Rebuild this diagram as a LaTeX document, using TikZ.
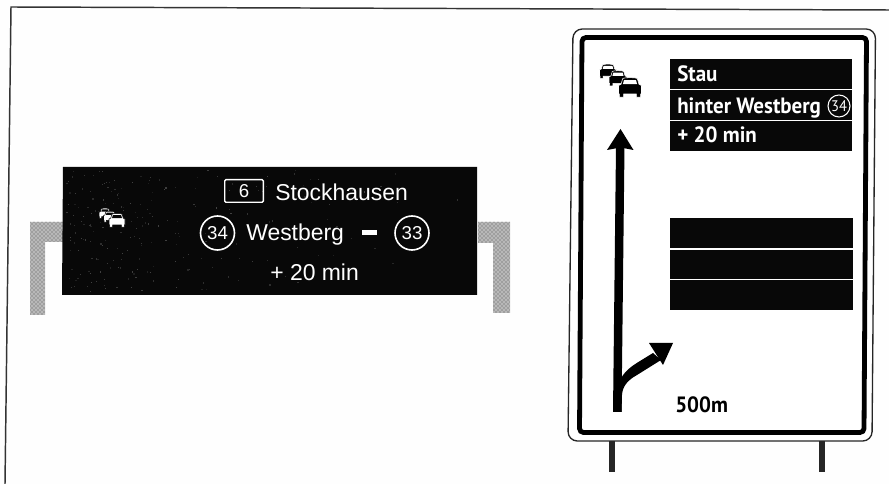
\documentclass[tikz,border=0pt]{standalone}
\usepackage{fontspec}
\setmainfont{Liberation Sans}
\newfontfamily\din{PT Sans}[FakeStretch=0.95]
\usetikzlibrary{patterns}
\definecolor{paper}{gray}{0.995}
\definecolor{post}{gray}{0.72}
\definecolor{panel}{gray}{0.03}
\tikzset{
 ptext/.style={text=white,font=\fontsize{17.2pt}{19pt}\selectfont,anchor=base west,inner sep=0pt},
 dtext/.style={text=white,font=\din\bfseries\fontsize{16.6pt}{18pt}\selectfont,anchor=base west,inner sep=0pt},
 ring/.style={circle,draw=white,line width=1.2pt,text=white,minimum size=25.5pt,inner sep=0pt,font=\fontsize{14pt}{16pt}\selectfont},
 whiteline/.style={draw=white,line width=1pt},
 blackbar/.style={fill=panel,draw=none},
 halftone/.style={pattern=crosshatch dots,pattern color=black!70},
}
\newcommand{\carsym}[5]{% x y scale colour background
 \begin{scope}[shift={(#1,#2)},scale=#3]
  \filldraw[fill=#4,draw=#5,line width=0.4pt] (-5,3) -- (-5,-0.6) -- (-3.9,-1.2) -- (-3.2,-3.6) .. controls (-3,-4.2) and (3,-4.2) .. (3.2,-3.6) -- (3.9,-1.2) -- (5,-0.6) -- (5,3) -- (4.6,3) -- (4.6,4.4) -- (2.8,4.4) -- (2.8,3) -- (-2.8,3) -- (-2.8,4.4) -- (-4.6,4.4) -- (-4.6,3) -- cycle;
  \fill[#5] (-2.6,-3) -- (2.6,-3) -- (3.1,-1.2) -- (-3.1,-1.2) -- cycle;
 \end{scope}}
\begin{document}
\begin{tikzpicture}[x=0.75pt,y=-0.75pt]
\useasboundingbox (0,0) rectangle (889,484);
\fill[paper] (0,0) rectangle (889,484);
% frame
\draw[line width=1.1pt,black!80] (5,484) -- (11,7) -- (889,10);
% overhead posts
\fill[post] (30,222) -- (63,222) -- (63,242) -- (45,242) -- (45,315) -- (30,315) -- cycle;
\fill[post] (478,222) -- (510,222) -- (510,313) -- (493,313) -- (493,243) -- (478,243) -- cycle;
\fill[halftone] (30,222) -- (63,222) -- (63,242) -- (45,242) -- (45,315) -- (30,315) -- cycle;
\fill[halftone] (478,222) -- (510,222) -- (510,313) -- (493,313) -- (493,243) -- (478,243) -- cycle;
% overhead panel
\fill[panel] (63,167) -- (477,167) -- (477,295) -- (62,295) -- cycle;
\pgfmathsetseed{7}
\foreach \i in {1,...,220}{
 \pgfmathsetmacro{\px}{66+408*rnd*rnd}
 \pgfmathsetmacro{\py}{170+122*rnd}
 \pgfmathsetmacro{\pg}{8+16*rnd}
 \fill[white!\pg!panel] (\px,\py) rectangle ++(1.2,1.2);
}
\node[draw=white,line width=1pt,rounded corners=1pt,minimum width=29pt,minimum height=17pt,inner sep=0pt,text=white,font=\fontsize{14pt}{16pt}\selectfont] (exit) at (244,191) {6};
\node[ptext] (st) at (275,201) {Stockhausen};
\node[ring] (r34) at (217.5,233) {34};
\node[ptext] (wb) at (246,241) {Westberg};
\fill[white] (362,230) rectangle (377,235);
\node[ring] (r33) at (412,233) {33};
\node[ptext] (tm) at (270,281) {+ 20 min};
\carsym{105}{213}{1.2}{white}{panel}
\carsym{110}{216.5}{1.3}{white}{panel}
\carsym{117}{220}{1.6}{white}{panel}
% posts of portal sign
\fill[black!85] (609,441) rectangle (615,472);
\fill[black!85] (819,441) rectangle (825,472);
% portal sign
\draw[line width=1pt,black!85,fill=white,rounded corners=7pt] (573,29) -- (875.5,29) -- (872,441) -- (568,441) -- cycle;
\draw[line width=3.6pt,black,rounded corners=3pt] (582,37.5) -- (866.5,37.5) -- (864,432.5) -- (579.5,432.5) -- cycle;
% upper panel
\fill[blackbar] (670,59) rectangle (852,151);
\draw[whiteline] (670,89.5) -- (852,89.5);
\draw[whiteline] (670,120.5) -- (852,120.5);
\node[dtext] (l1) at (677,82) {Stau};
\node[dtext] (l2) at (677,114) {hinter Westberg};
\node[circle,draw=white,line width=0.8pt,text=white,minimum size=16.5pt,inner sep=0pt,font=\din\fontsize{11.5pt}{13pt}\selectfont] (c34) at (839,106) {34};
\node[dtext] (l3) at (677,143) {+ 20 min};
% lower panel
\fill[blackbar] (670,218) rectangle (853,310);
\draw[whiteline] (670,249) -- (853,249);
\draw[whiteline] (670,279.5) -- (853,279.5);
% cars
\carsym{608}{71}{1.7}{black}{white}
\carsym{618}{78}{1.8}{black}{white}
\carsym{630}{87}{2.3}{black}{white}
% arrows
\fill[black] (613,412) -- (621.5,412) -- (624.5,147) -- (616,147) -- cycle;
\fill[black] (620.5,129) -- (633.5,150) -- (620.5,147.5) -- (607,150) -- cycle;
\fill[black] (613.5,412) -- (621.5,412) -- (622,395) .. controls (622.5,386) and (628,380) .. (637,375) -- (661,360) -- (653,353) -- (640,361) .. controls (630,367) and (622,373) .. (618,385) -- cycle;
\fill[black] (673,343) -- (649,343) -- (663,365) -- cycle;
\node[font=\din\bfseries\fontsize{16.6pt}{18pt}\selectfont,inner sep=0pt,text=black,anchor=base west] (dist) at (675,413) {500m};
\end{tikzpicture}
\end{document}
